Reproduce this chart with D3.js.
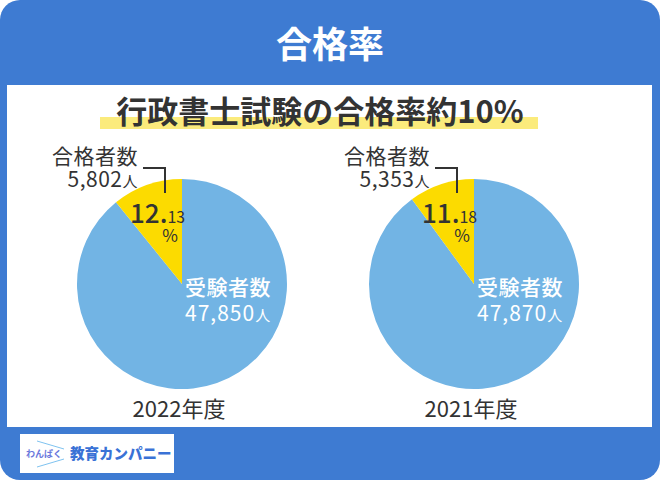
<!DOCTYPE html>
<html>
<head>
<meta charset="utf-8">
<script src="https://cdn.jsdelivr.net/npm/d3@7"></script>
<style>
  body { margin: 0; background: #fff; }
  svg { display: block; font-family: "Noto Sans CJK JP", "Noto Sans", sans-serif; }
</style>
</head>
<body>
<div id="chart"></div>
<script>
const title = "合格率";
const subtitle = "行政書士試験の合格率約10%";
const years = ["2022年度", "2021年度"];
const examinees = [47850, 47870];
const passers = [5802, 5353];
const passRates = [12.13, 11.18];

const width = 660, height = 480;
const radius = 105;
const cardBlue = "#3e7bd2", pieBlue = "#72b4e4", pieYellow = "#fcdb00", ink = "#333";

const svg = d3.select("#chart").append("svg")
    .attr("width", width)
    .attr("height", height);

// blue card with rounded corners + white panel
svg.append("rect")
    .attr("x", 0).attr("y", 0)
    .attr("width", width).attr("height", height)
    .attr("rx", 20)
    .attr("fill", cardBlue);

svg.append("rect")
    .attr("x", 7).attr("y", 85)
    .attr("width", 645).attr("height", 342)
    .attr("fill", "#fff");

svg.append("text")
    .attr("x", width / 2).attr("y", 58)
    .attr("text-anchor", "middle")
    .attr("fill", "#fff")
    .attr("font-size", 36)
    .attr("font-weight", 700)
    .text(title);

// highlighted headline
svg.append("rect")
    .attr("x", 100).attr("y", 117)
    .attr("width", 438).attr("height", 12)
    .attr("fill", "#fbeb7c");

svg.append("text")
    .attr("x", 320).attr("y", 123)
    .attr("text-anchor", "middle")
    .attr("fill", ink)
    .attr("font-size", 31)
    .attr("font-weight", 700)
    .text(subtitle);

const xPos = d3.scalePoint()
    .domain(years)
    .range([182, 474]);

const pie = d3.pie().sort(null);
const arc = d3.arc().innerRadius(0).outerRadius(radius);
const fmt = d3.format(",");

years.forEach((year, i) => {
    const cx = xPos(year), cy = 284;
    const g = svg.append("g").attr("transform", `translate(${cx},${cy})`);

    g.selectAll("path")
        .data(pie([examinees[i], passers[i]]))
        .enter().append("path")
        .attr("d", arc)
        .attr("fill", (d, j) => j === 0 ? pieBlue : pieYellow);

    // examinees label inside the blue slice
    g.append("text")
        .attr("x", 3).attr("y", 11)
        .attr("fill", "#fff")
        .attr("font-size", 21)
        .attr("font-weight", 500)
        .attr("letter-spacing", 0.5)
        .text("受験者数");
    const ex = g.append("text")
        .attr("x", 3).attr("y", 37)
        .attr("fill", "#fff")
        .attr("font-size", 21)
        .attr("letter-spacing", 1);
    ex.append("tspan").text(fmt(examinees[i]));
    ex.append("tspan").attr("font-size", 15).text("人");

    // pass rate inside the yellow slice
    const [whole, dec] = passRates[i].toFixed(2).split(".");
    const pr = g.append("text")
        .attr("x", -52).attr("y", -61)
        .attr("fill", ink)
        .attr("font-size", 26)
        .attr("font-weight", 500);
    pr.append("tspan").text(whole + ".");
    pr.append("tspan").attr("font-size", 16).attr("font-weight", 400).text(dec);
    g.append("text")
        .attr("x", -12).attr("y", -42)
        .attr("text-anchor", "middle")
        .attr("fill", ink)
        .attr("font-size", 17)
        .text("%");

    // passers callout with leader line
    g.append("text")
        .attr("x", -44).attr("y", -120)
        .attr("text-anchor", "end")
        .attr("fill", ink)
        .attr("font-size", 21)
        .attr("letter-spacing", 0.5)
        .text("合格者数");
    const ps = g.append("text")
        .attr("x", -44).attr("y", -97)
        .attr("text-anchor", "end")
        .attr("fill", ink)
        .attr("font-size", 21)
        .attr("letter-spacing", 0.5);
    ps.append("tspan").text(fmt(passers[i]));
    ps.append("tspan").attr("font-size", 15).text("人");

    g.append("path")
        .attr("d", "M-39,-116H-17V-91")
        .attr("fill", "none")
        .attr("stroke", ink)
        .attr("stroke-width", 2);

    svg.append("text")
        .attr("x", cx - 3).attr("y", 417)
        .attr("text-anchor", "middle")
        .attr("fill", ink)
        .attr("font-size", 22)
        .text(year);
});

// logo
const logo = svg.append("g");
logo.append("rect")
    .attr("x", 20).attr("y", 434)
    .attr("width", 154).attr("height", 39)
    .attr("fill", "#fff");
logo.append("path")
    .attr("d", "M37,441L64,449M37,467L64,459")
    .attr("stroke", "#7fc3f0")
    .attr("stroke-width", 1);
logo.append("text")
    .attr("x", 26).attr("y", 457)
    .attr("fill", "#6a78dc")
    .attr("font-size", 9)
    .attr("font-weight", 700)
    .text("わんぱく");
logo.append("text")
    .attr("x", 70).attr("y", 459)
    .attr("fill", "#3a72d6")
    .attr("font-size", 14.5)
    .attr("font-weight", 900)
    .text("教育カンパニー");
</script>
</body>
</html>
